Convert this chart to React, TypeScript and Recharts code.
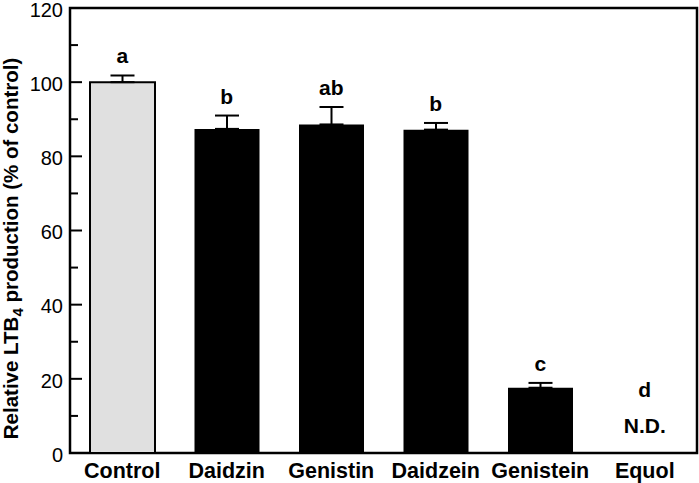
import React from 'react';
import {
  ComposedChart,
  Bar,
  Line,
  Cell,
  ErrorBar,
  XAxis,
  YAxis,
  ReferenceArea,
} from 'recharts';

const categories = ['Control', 'Daidzin', 'Genistin', 'Daidzein', 'Genistein', 'Equol'];
const means = [100, 87.4, 88.6, 87.2, 17.6, null];
const sems = [1.8, 3.6, 4.7, 1.8, 1.3, null];
const letters = ['a', 'b', 'ab', 'b', 'c', 'd'];
const yTicks = [0, 10, 20, 30, 40, 50, 60, 70, 80, 90, 100, 110, 120];

const FONT = '"Liberation Sans", Arial, Helvetica, sans-serif';

const data = categories.map((name, i) => ({
  name,
  mean: means[i],
  err: sems[i] == null ? null : [0, sems[i]],
  top: means[i] == null ? 0 : (means[i] as number) + (sems[i] as number),
  letter: letters[i],
  nd: means[i] == null,
}));

const YTick = (props: any) => {
  const { x, y, payload } = props;
  const major = payload.value % 20 === 0;
  return (
    <g>
      <line x1={x} x2={x + (major ? 12 : 8)} y1={y} y2={y} stroke="#000" strokeWidth={2} />
      {major && (
        <text x={x - 7} y={y} dy="0.44em" textAnchor="end" fontSize={20} fontFamily={FONT} fill="#000">
          {payload.value}
        </text>
      )}
    </g>
  );
};

const XTick = (props: any) => {
  const { x, y, payload } = props;
  return (
    <text x={x} y={y + 25} textAnchor="middle" fontSize={21.5} fontWeight="bold" fontFamily={FONT} fill="#000">
      {payload.value}
    </text>
  );
};

const LetterLabel = (props: any) => {
  const { x, y, index } = props;
  const row = data[index];
  if (row.nd) {
    return (
      <g fontFamily={FONT} fontWeight="bold" fontSize={21} fill="#000" textAnchor="middle">
        <text x={x} y={y - 56}>{row.letter}</text>
        <text x={x} y={y - 20}>N.D.</text>
      </g>
    );
  }
  return (
    <text x={x} y={y - 12} textAnchor="middle" fontSize={21} fontWeight="bold" fontFamily={FONT} fill="#000">
      {row.letter}
    </text>
  );
};

const YLabel = (props: any) => {
  const { viewBox } = props;
  const cy = viewBox.y + viewBox.height / 2 + 18;
  const cx = 18;
  return (
    <text
      x={cx}
      y={cy}
      transform={`rotate(-90, ${cx}, ${cy})`}
      textAnchor="middle"
      fontSize={20.5}
      fontWeight="bold"
      fontFamily={FONT}
      fill="#000"
    >
      <tspan>Relative LTB</tspan>
      <tspan fontSize={15} dy={5}>4</tspan>
      <tspan dy={-5}> production (% of control)</tspan>
    </text>
  );
};

export default function App() {
  return (
    <div style={{ position: 'absolute', left: 0, top: 0, background: '#fff' }}>
      <ComposedChart
        width={699}
        height={483}
        data={data}
        margin={{ top: 8, right: 2, bottom: 0, left: 0 }}
      >
        <XAxis
          dataKey="name"
          height={30}
          axisLine={false}
          tickLine={false}
          tickSize={0}
          tickMargin={0}
          tick={<XTick />}
          interval={0}
        />
        <YAxis
          width={70}
          domain={[0, 120]}
          ticks={yTicks}
          axisLine={false}
          tickLine={false}
          tickSize={0}
          tickMargin={0}
          tick={<YTick />}
          interval={0}
          label={{ content: <YLabel /> }}
        />
        <Bar dataKey="mean" barSize={65} isAnimationActive={false}>
          {data.map((d, i) => (
            <Cell
              key={d.name}
              fill={i === 0 ? '#e0e0e0' : '#000'}
              stroke="#000"
              strokeWidth={i === 0 ? 2 : 0}
            />
          ))}
          <ErrorBar dataKey="err" width={12} stroke="#000" strokeWidth={2} />
        </Bar>
        <Line
          dataKey="top"
          stroke="none"
          dot={false}
          activeDot={false}
          isAnimationActive={false}
          label={<LetterLabel />}
        />
        <ReferenceArea y1={0} y2={120} fill="none" stroke="#000" strokeWidth={2.5} ifOverflow="visible" />
      </ComposedChart>
    </div>
  );
}
